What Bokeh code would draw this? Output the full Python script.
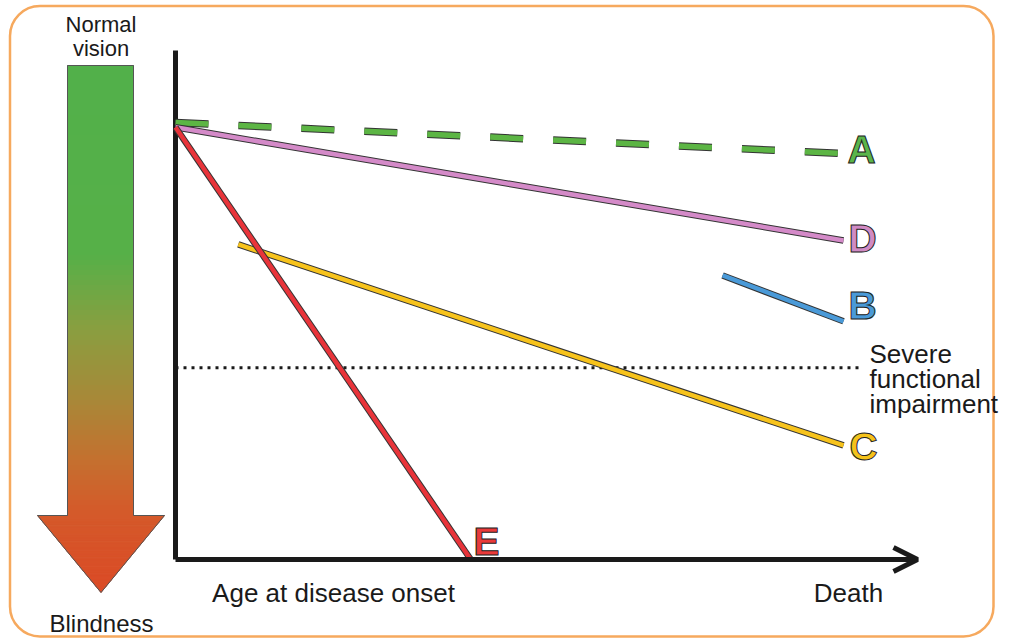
from bokeh.plotting import figure
from bokeh.models import Range1d, Arrow, OpenHead
from bokeh.core.properties import value
from bokeh.embed import file_html
from bokeh.resources import INLINE

# ---- data (time: 0 = disease onset, 100 = death; vision: 100 = normal, 0 = blindness)
series_names = ["A", "D", "B", "C", "E"]
series_t0 = [0.0, 0.0, 81.9, 9.4, 0.0]
series_v0 = [100.0, 98.9, 65.0, 72.1, 98.9]
series_t1 = [100.0, 100.0, 100.0, 100.0, 44.2]
series_v1 = [92.9, 73.0, 54.5, 26.1, 0.0]
series_colors = ["#5cb544", "#d48ac8", "#4a9ad8", "#f7c31c", "#e8343a"]
label_colors = ["#5ab54a", "#d08ac4", "#4a9ad8", "#f5c21a", "#ea3a3a"]
severe_level = 43.9
x_labels = ["Age at disease onset", "Death"]
threshold_label = ["Severe", "functional", "impairment"]
arrow_labels = ["Normal", "vision", "Blindness"]

# ---- layout helpers (reference pixel -> data coordinates)
W, H = 1005, 639
SX, SY = 6.68, 4.37
X0, Y0 = 175.0, 559.0


def px(x):
    return (x - X0) / SX


def py(y):
    return (Y0 - y) / SY


p = figure(width=W, height=H, output_backend="svg", toolbar_location=None,
           x_range=Range1d(px(0), px(W)), y_range=Range1d(py(H), py(0)),
           min_border=0, x_axis_type=None, y_axis_type=None)
p.grid.visible = False
p.outline_line_color = None
p.background_fill_color = "white"
p.border_fill_color = "white"

# rounded orange frame
p.quad(left=px(9.5), right=px(993), top=py(5.5), bottom=py(636),
       fill_color=None, line_color="#f6a95e", line_width=2.5, border_radius=30)

# ---- gradient arrow (left)
stops = [(65, (82, 176, 74)), (255, (86, 176, 72)), (330, (138, 158, 64)),
         (400, (168, 136, 56)), (460, (196, 112, 47)), (510, (212, 90, 42)),
         (592, (219, 74, 38))]


def col(y):
    for (ya, ca), (yb, cb) in zip(stops[:-1], stops[1:]):
        if ya <= y <= yb:
            f = (y - ya) / (yb - ya)
            c = [round(a + (b - a) * f) for a, b in zip(ca, cb)]
            return "#%02x%02x%02x" % tuple(c)
    return "#%02x%02x%02x" % stops[-1][1]


xs, ys, cs = [], [], []
sl, sr, stop_, sbot = 67, 133, 65, 515
hl, hr, tipx, tipy = 37, 164, 100.5, 592
n = 90
for i in range(n):
    y0 = stop_ + (sbot - stop_) * i / n
    y1 = stop_ + (sbot - stop_) * (i + 1) / n
    xs.append([px(sl), px(sr), px(sr), px(sl)])
    ys.append([py(y0), py(y0), py(y1), py(y1)])
    cs.append(col((y0 + y1) / 2))
m = 24


def hw(y):
    return (hr - hl) / 2 * (tipy - y) / (tipy - sbot)


for i in range(m):
    y0 = sbot + (tipy - sbot) * i / m
    y1 = sbot + (tipy - sbot) * (i + 1) / m
    xs.append([px(tipx - hw(y0)), px(tipx + hw(y0)), px(tipx + hw(y1)), px(tipx - hw(y1))])
    ys.append([py(y0), py(y0), py(y1), py(y1)])
    cs.append(col((y0 + y1) / 2))
p.patches(xs, ys, fill_color=cs, line_color=cs, line_width=1)
p.patch([px(sl), px(sr), px(sr), px(hr), px(tipx), px(hl), px(sl), px(sl)],
        [py(stop_), py(stop_), py(sbot), py(sbot), py(tipy), py(sbot), py(sbot), py(stop_)],
        fill_color=None, line_color="#555555", line_width=1)

font = value("Liberation Sans")
p.text(x=[px(100.5), px(100.5)], y=[py(24), py(48)], text=arrow_labels[:2],
       text_font=font, text_font_size="22px", text_align="center",
       text_baseline="middle", text_color="#1a1a1a")
p.text(x=[px(101)], y=[py(623)], text=arrow_labels[2:],
       text_font=font, text_font_size="24px", text_align="center",
       text_baseline="middle", text_color="#1a1a1a")

# ---- axes
p.segment(x0=[0], y0=[0], x1=[0], y1=[py(50)], line_color="#1a1a1a", line_width=5)
p.add_layout(Arrow(x_start=0, y_start=0, x_end=px(917), y_end=0,
                   line_color="#1a1a1a", line_width=5,
                   end=OpenHead(size=24, line_width=5, line_color="#1a1a1a")))

# threshold
p.line([0, px(862)], [severe_level, severe_level], line_color="#1a1a1a",
       line_width=3, line_dash="3 5")
p.text(x=[px(869)] * 3, y=[py(353), py(378), py(403)], text=threshold_label,
       text_font=font, text_font_size="26px", text_align="left",
       text_baseline="middle", text_color="#1a1a1a")

# ---- series lines
for name, t0, v0, t1, v1, c in zip(series_names, series_t0, series_v0, series_t1,
                                    series_v1, series_colors):
    if name == "A":
        p.line([t0, t1], [v0, v1], line_color="#333333", line_width=7.5,
               line_dash="33 30")
        p.line([t0, t1], [v0, v1], line_color=c, line_width=5.5, line_dash="33 30")
    else:
        p.line([t0, t1], [v0, v1], line_color="#333333", line_width=6.5)
        p.line([t0, t1], [v0, v1], line_color=c, line_width=4.5)

# series letters
p.text(x=[px(861), px(862), px(862), px(863), px(486)],
       y=[py(149), py(238), py(305), py(446), py(541)],
       text=series_names, text_font=font, text_font_size="39px",
       text_font_style="bold", text_align="center", text_baseline="middle",
       text_color=label_colors, text_outline_color="#222222")

# x labels
p.text(x=[px(333), px(848)], y=[py(592), py(592)], text=x_labels,
       text_font=font, text_font_size="26px", text_align="center",
       text_baseline="middle", text_color="#1a1a1a")

open("out.html", "w").write(file_html(p, INLINE))
